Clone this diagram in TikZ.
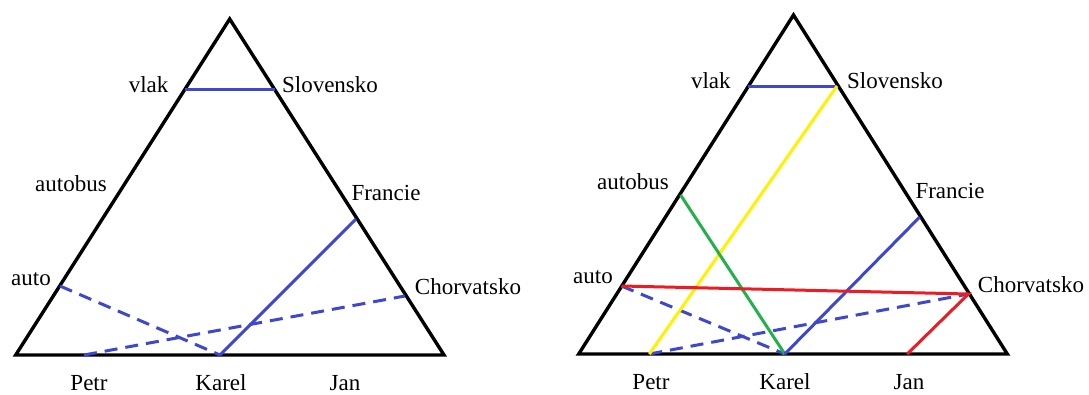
\documentclass[tikz,border=0pt]{standalone}
\usepackage{fontspec}
\setmainfont{Liberation Serif}
\definecolor{pblue}{RGB}{63,72,204}
\definecolor{pred}{RGB}{237,28,36}
\definecolor{pgreen}{RGB}{34,177,76}
\definecolor{pyellow}{RGB}{255,242,0}
\tikzset{
  tri/.style={draw=black, line width=3.4pt, line join=miter},
  lbl/.style={inner sep=0pt, font=\fontsize{23}{26}\selectfont},
  link/.style={line width=3pt},
  dlink/.style={line width=3pt, dash pattern=on 13pt off 8pt},
}
\begin{document}
\begin{tikzpicture}[x=1pt, y=-1pt]
\useasboundingbox (0,0) rectangle (1089,394);
\fill[white] (0,0) rectangle (1089,394);

% ---- left triangle ----
\coordinate (LA) at (229.7,19);
\coordinate (LB) at (15.7,355);
\coordinate (LC) at (444,355);
\draw[tri] (LA) -- (LB) -- (LC) -- cycle;

\coordinate (Lvlak) at (184.6,89.3);
\coordinate (Lslov) at (274.5,89.3);
\coordinate (Lfran) at (356,219);
\coordinate (Lchor) at (405,296);
\coordinate (Lauto) at (60,286);
\coordinate (Lpetr) at (84,355);
\coordinate (Lkarel) at (220,355);

\node[lbl] (tLvlak) at (148.6,85) {vlak};
\node[lbl] (tLslov) at (330,85) {Slovensko};
\node[lbl] (tLbus) at (71,184) {autobus};
\node[lbl] (tLfran) at (386,193) {Francie};
\node[lbl] (tLauto) at (31,279) {auto};
\node[lbl] (tLchor) at (468,287) {Chorvatsko};
\node[lbl] (tLpetr) at (89,383) {Petr};
\node[lbl] (tLkarel) at (221,383) {Karel};
\node[lbl] (tLjan) at (345,383) {Jan};

\draw[link, pblue] (Lvlak) -- (Lslov);
\draw[link, pblue] (Lkarel) -- (Lfran);
\draw[dlink, pblue] (Lauto) -- (Lkarel);
\draw[dlink, pblue] (Lpetr) -- (Lchor);

% ---- right triangle ----
\coordinate (RA) at (793.5,15);
\coordinate (RB) at (578.7,354);
\coordinate (RC) at (1007.3,354);
\draw[tri] (RA) -- (RB) -- (RC) -- cycle;

\coordinate (Rvlak) at (747.6,86);
\coordinate (Rslov) at (837,86);
\coordinate (Rbus) at (680.6,195);
\coordinate (Rfran) at (919.7,217);
\coordinate (Rauto) at (621.5,286);
\coordinate (Rchor) at (968.4,294);
\coordinate (Rpetr) at (649.3,354);
\coordinate (Rkarel) at (784.8,354);
\coordinate (Rjan) at (907.2,354);

\node[lbl] (tRvlak) at (710.8,81) {vlak};
\node[lbl] (tRslov) at (895,81) {Slovensko};
\node[lbl] (tRbus) at (633,182) {autobus};
\node[lbl] (tRfran) at (950,191) {Francie};
\node[lbl] (tRauto) at (593,277) {auto};
\node[lbl] (tRchor) at (1031,285) {Chorvatsko};
\node[lbl] (tRpetr) at (651,382) {Petr};
\node[lbl] (tRkarel) at (785,382) {Karel};
\node[lbl] (tRjan) at (909,382) {Jan};

\draw[link, pblue] (Rvlak) -- (Rslov);
\draw[dlink, pblue] (Rauto) -- (Rkarel);
\draw[dlink, pblue] (Rpetr) -- (Rchor);
\draw[link, pyellow] (Rpetr) -- (Rslov);
\draw[link, pgreen] (Rbus) -- (Rkarel);
\draw[link, pblue] (Rkarel) -- (Rfran);
\draw[link, pred] (Rauto) -- (Rchor) -- (Rjan);
\end{tikzpicture}
\end{document}
